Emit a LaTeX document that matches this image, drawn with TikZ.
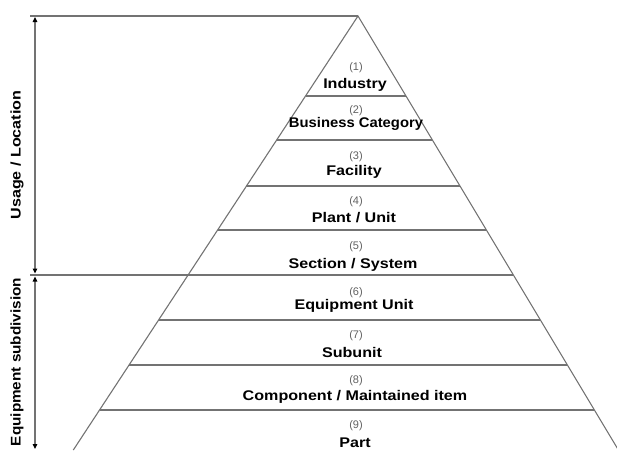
\documentclass[tikz,border=0pt]{standalone}
\usepackage{fontspec}
\setmainfont{Liberation Sans}
\newfontfamily\lab[FakeStretch=1.15]{Liberation Sans}
\usetikzlibrary{arrows.meta}
\begin{document}
\begin{tikzpicture}[x=1pt,y=-1pt,
  edge/.style={draw=black!55, line width=1.1pt},
  num/.style={text=black!62, inner sep=0pt, font=\fontsize{11}{13}\selectfont},
  lvl/.style={inner sep=0pt, font=\lab\bfseries\fontsize{14}{16}\selectfont},
  axis/.style={draw=black!55, line width=1.1pt,
    {Triangle[length=5pt,width=4.5pt,color=black]}-{Triangle[length=5pt,width=4.5pt,color=black]}}]
\useasboundingbox (0,0) rectangle (617,450);
\begin{scope}
\clip (0,0) rectangle (617,450);
\coordinate (apex) at (358,16);
\coordinate (bl) at (73.3,450);
\coordinate (br) at (618.4,450);
\coordinate (t0) at (30,16);
\coordinate (m0) at (30,275);
\coordinate (m1) at ({358+0.6*259},275);
\draw[edge] (bl) -- (apex) -- (br);
\draw[edge] (t0) -- (apex);
\draw[edge] (m0) -- (m1);
\foreach \y in {96,140,186,230,320,365,410}
  \draw[edge] ({358-0.656*(\y-16)},\y) -- ({358+0.6*(\y-16)},\y);
\coordinate (a1) at (35,17);
\coordinate (a2) at (35,273.5);
\coordinate (a3) at (35,276.5);
\coordinate (a4) at (35,449);
\draw[axis] (a1) -- (a2);
\draw[axis] (a3) -- (a4);
\end{scope}
\node[lvl, rotate=90] (ul) at (17,155) {Usage / Location};
\node[lvl, rotate=90] (es) at (17,362) {\scalebox{0.95}[1]{Equipment subdivision}};
\node[num] (n1) at (356,68) {(1)};
\node[lvl] (l1) at (355,85) {Industry};
\node[num] (n2) at (356,111) {(2)};
\node[lvl] (l2) at (356,124) {\scalebox{0.92}[1]{Business Category}};
\node[num] (n3) at (356,156.5) {(3)};
\node[lvl] (l3) at (354,172) {Facility};
\node[num] (n4) at (356,201.5) {(4)};
\node[lvl] (l4) at (354,218) {Plant / Unit};
\node[num] (n5) at (356,246.5) {(5)};
\node[lvl] (l5) at (353,265) {Section / System};
\node[num] (n6) at (356,292.5) {(6)};
\node[lvl] (l6) at (354,306) {Equipment Unit};
\node[num] (n7) at (356,336) {(7)};
\node[lvl] (l7) at (352,352) {Subunit};
\node[num] (n8) at (356,381) {(8)};
\node[lvl] (l8) at (355,397) {Component / Maintained item};
\node[num] (n9) at (356,426) {(9)};
\node[lvl] (l9) at (355,443) {Part};
\end{tikzpicture}
\end{document}
